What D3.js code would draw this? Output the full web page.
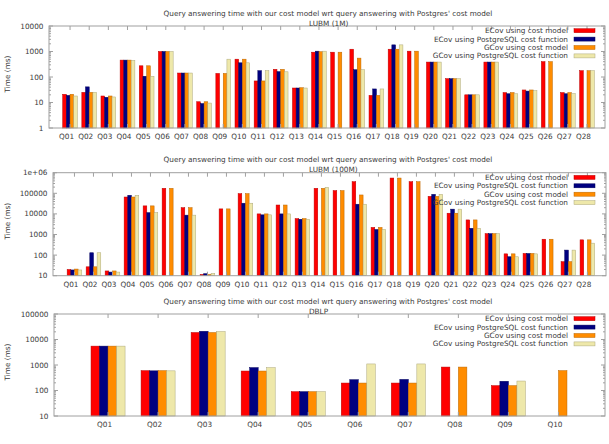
<!DOCTYPE html>
<html>
<head>
<meta charset="utf-8">
<script src="https://cdn.jsdelivr.net/npm/d3@7"></script>
<style>
  body { margin: 0; background: #fff; }
  svg text { font-family: "DejaVu Sans", sans-serif; font-size: 7.3px; fill: #3a3a3a; }
</style>
</head>
<body>
<svg id="chart" width="609" height="444"></svg>
<script>
// Data (ms, log scale); null = no bar
const seriesNames = ["ECov using cost model", "ECov using PostgreSQL cost function",
                     "GCov using cost model", "GCov using PostgreSQL cost function"];
const seriesColors = ["#ff0000", "#000080", "#ff8c00", "#eee8aa"];

const mainTitle = "Query answering time with our cost model wrt query answering with Postgres' cost model";
const subTitles = ["LUBM (1M)", "LUBM (100M)", "DBLP"];

const lubmQueries = d3.range(1, 29).map(i => "Q" + String(i).padStart(2, "0"));
const dblpQueries = d3.range(1, 11).map(i => "Q" + String(i).padStart(2, "0"));

const ecovCost1M = [21,25,18,460,275,1000,143,10.7,138,500,70,200,37,940,940,1230,19,1230,1030,385,86,20,385,24.5,31,400,24.5,177];
const ecovPg1M   = [19,41,16,460,107,1000,143,9.1,null,360,177,162,37,1030,null,193,34,1820,null,385,86,20,385,22,28,null,22,null];
const gcovCost1M = [21,25,18,460,275,1000,143,10.7,138,500,70,200,38,980,940,550,19,1230,1030,385,86,20,385,24.5,31,400,24.5,177];
const gcovPg1M   = [18,25,16.5,450,107,1000,143,9.5,500,360,177,160,37,1030,null,193,34,1820,null,385,86,20,385,22,29,null,22.5,177];

const ecovCost100M = [20,27,17,66000,24500,174000,20000,11.5,17500,96000,10000,27000,5900,174000,135000,365000,2200,550000,365000,71000,10800,5100,1100,115,120,590,48,550];
const ecovPg100M   = [19,130,15,80000,11500,null,8700,12.5,null,33000,9000,10000,5500,null,null,29500,1750,null,null,89000,17000,2000,1100,83,120,null,175,null];
const gcovCost100M = [21,27,17,66000,24500,174000,20000,11.5,17500,96000,10000,27000,5900,174000,135000,83000,2200,550000,365000,71000,10800,5100,1100,115,120,590,48,550];
const gcovPg100M   = [19,130,15,80000,11500,null,8700,13,null,33000,9000,10000,5500,195000,null,29500,1750,null,null,89000,17000,2000,1100,83,115,null,175,380];

const ecovCostDblp = [5500,600,18800,580,90,196,196,830,155,null];
const ecovPgDblp   = [5500,590,21000,790,90,265,272,null,230,null];
const gcovCostDblp = [5500,600,18800,580,90,196,196,830,155,600];
const gcovPgDblp   = [5500,590,20500,790,90,1100,1100,null,235,null];

const yTicks1 = [1, 10, 100, 1000, 10000];
const yTicks2 = [10, 100, 1000, 10000, 100000, 1000000];
const yTicks3 = [10, 100, 1000, 10000, 100000];

// layout of the three panels
const panels = [
  { cats: lubmQueries, series: [ecovCost1M, ecovPg1M, gcovCost1M, gcovPg1M], ticks: yTicks1,
    left: 49, right: 605, top: 26, bottom: 128, xdom: [-1.1, 27.94], cluster: 0.77 },
  { cats: lubmQueries, series: [ecovCost100M, ecovPg100M, gcovCost100M, gcovPg100M], ticks: yTicks2,
    left: 53, right: 606, top: 172.7, bottom: 275.7, xdom: [-1.13, 27.98], cluster: 0.77 },
  { cats: dblpQueries, series: [ecovCostDblp, ecovPgDblp, gcovCostDblp, gcovPgDblp], ticks: yTicks3,
    left: 54, right: 605, top: 314, bottom: 416, xdom: [-1.08, 9.93], cluster: 0.68 }
];

const svg = d3.select("#chart");
const fmt = v => v >= 1000000 ? "1e+06" : String(v);

panels.forEach((p, pi) => {
  const g = svg.append("g");
  const x = d3.scaleLinear().domain(p.xdom).range([p.left, p.right]);
  const y = d3.scaleLog().domain(d3.extent(p.ticks)).range([p.bottom, p.top]);
  const unit = x(1) - x(0);
  const bw = unit * p.cluster / 4;

  // bars
  p.series.forEach((vals, si) => {
    g.selectAll(null)
      .data(vals.map((v, i) => ({ v, i })).filter(d => d.v != null))
      .enter().append("rect")
      .attr("x", d => x(d.i) - 2 * bw + si * bw)
      .attr("y", d => y(d.v))
      .attr("width", bw)
      .attr("height", d => p.bottom - y(d.v))
      .attr("fill", seriesColors[si])
      .attr("stroke", d3.color(seriesColors[si]).darker(0.9))
      .attr("stroke-width", 0.5);
  });

  // border
  g.append("rect")
    .attr("x", p.left).attr("y", p.top)
    .attr("width", p.right - p.left).attr("height", p.bottom - p.top)
    .attr("fill", "none").attr("stroke", "#a0a0a0").attr("stroke-width", 1);

  // y ticks (major + minor, mirrored)
  const [lo, hi] = d3.extent(p.ticks);
  const minor = [];
  for (let d = lo; d < hi; d *= 10) for (let k = 2; k < 10; k++) minor.push(d * k);
  [[p.ticks, 4], [minor, 2]].forEach(([vals, len]) => {
    vals.forEach(v => {
      g.append("line").attr("x1", p.left).attr("x2", p.left + len)
        .attr("y1", y(v)).attr("y2", y(v)).attr("stroke", "#a0a0a0");
      g.append("line").attr("x1", p.right).attr("x2", p.right - len)
        .attr("y1", y(v)).attr("y2", y(v)).attr("stroke", "#a0a0a0");
    });
  });
  g.selectAll(null).data(p.ticks).enter().append("text")
    .attr("x", p.left - 5.5).attr("y", d => y(d)).attr("dy", "0.35em")
    .attr("text-anchor", "end").text(fmt);

  // x ticks (bottom + top)
  p.cats.forEach((c, i) => {
    g.append("line").attr("x1", x(i)).attr("x2", x(i))
      .attr("y1", p.bottom).attr("y2", p.bottom - 4).attr("stroke", "#a0a0a0");
    g.append("line").attr("x1", x(i)).attr("x2", x(i))
      .attr("y1", p.top).attr("y2", p.top + 4).attr("stroke", "#a0a0a0");
    g.append("text").attr("x", x(i) - 3.5).attr("y", p.bottom + 8.5)
      .attr("dy", "0.35em").attr("text-anchor", "middle").text(c);
  });

  // titles
  g.append("text").attr("x", 328).attr("y", p.top - 13).attr("dy", "0.35em")
    .attr("text-anchor", "middle").text(mainTitle);
  g.append("text").attr("x", 309).attr("y", p.top - 3).attr("dy", "0.35em")
    .text(subTitles[pi]);

  // y label
  g.append("text")
    .attr("transform", `translate(7,${(p.top + p.bottom) / 2 - 3}) rotate(-90)`)
    .attr("dy", "0.35em").attr("text-anchor", "middle").text("Time (ms)");

  // legend
  seriesNames.forEach((name, si) => {
    const ly = p.top + 4.7 + si * 8.4;
    g.append("text").attr("x", 568).attr("y", ly).attr("dy", "0.35em")
      .attr("text-anchor", "end").text(name);
    g.append("rect").attr("x", 574).attr("y", ly - 2).attr("width", 21).attr("height", 4)
      .attr("fill", seriesColors[si])
      .attr("stroke", d3.color(seriesColors[si]).darker(0.9)).attr("stroke-width", 0.5);
  });
});
</script>
</body>
</html>
